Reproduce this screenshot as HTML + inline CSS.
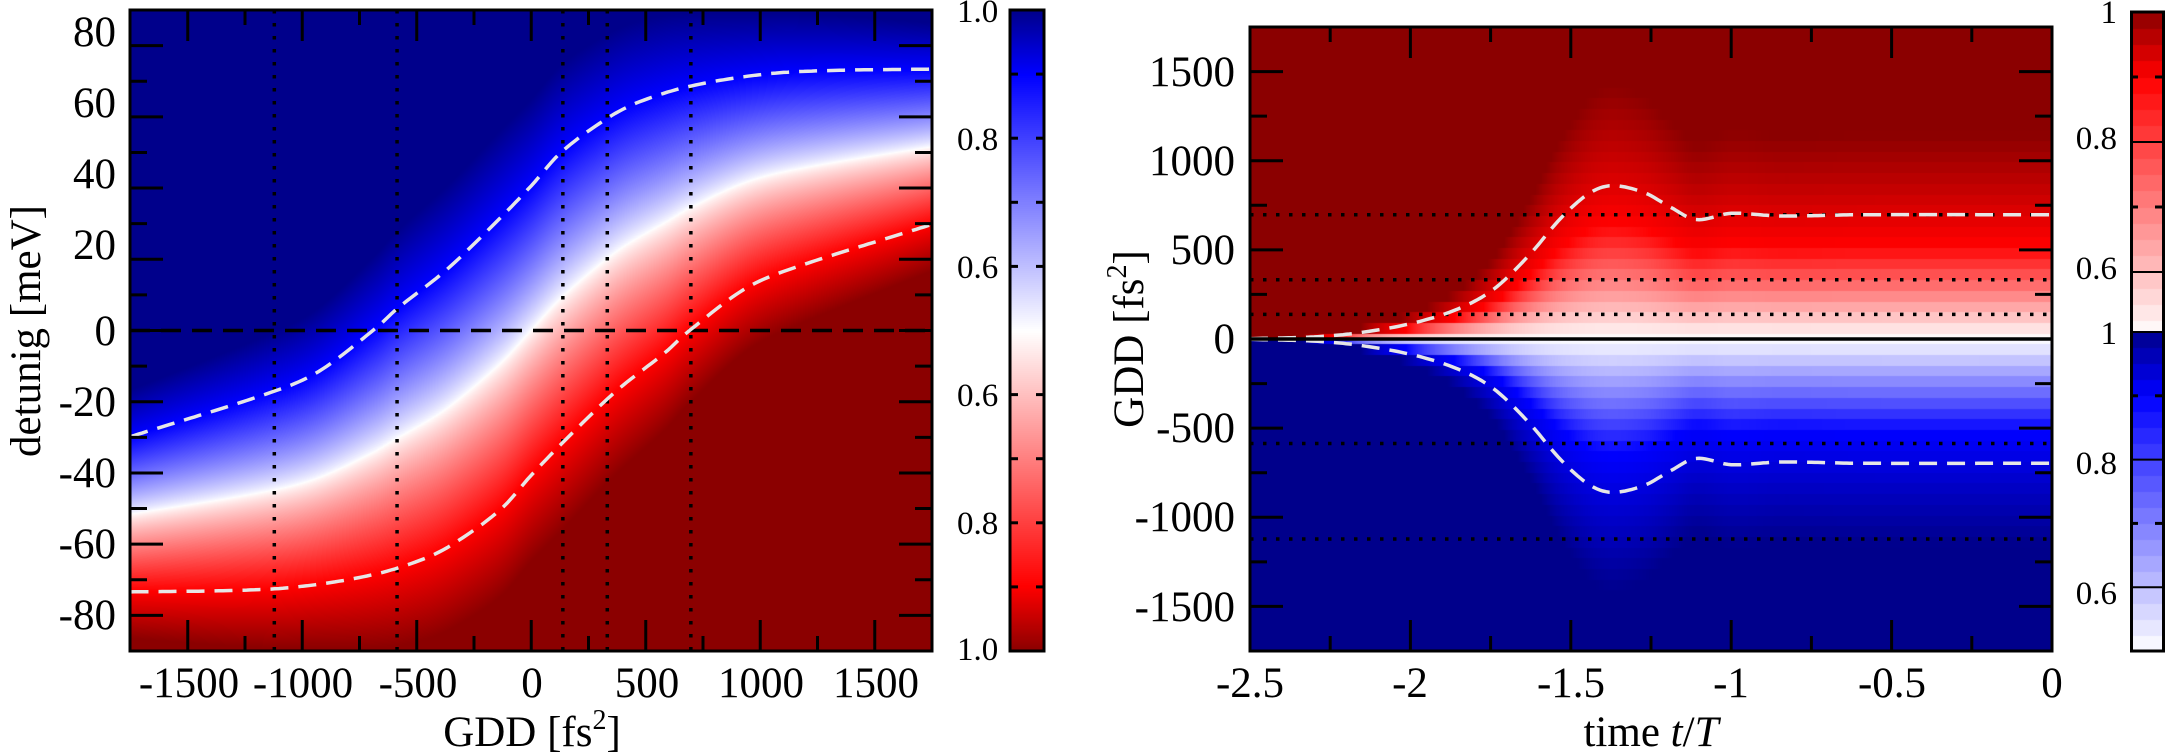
<!DOCTYPE html>
<html><head><meta charset="utf-8">
<style>
html,body{margin:0;padding:0;background:#fff;}
#wrap{position:relative;width:2165px;height:756px;overflow:hidden;}
canvas{position:absolute;}
svg{position:absolute;left:0;top:0;}
text{font-family:"Liberation Serif",serif;fill:#000;}
</style></head>
<body><div id="wrap">
<canvas id="c1" width="802" height="641" style="left:130px;top:10px"></canvas>
<canvas id="cb1" width="34" height="641" style="left:1010px;top:10px"></canvas>
<canvas id="c2" width="802" height="624" style="left:1250px;top:27px"></canvas>
<canvas id="cb2" width="33" height="639" style="left:2130px;top:12px"></canvas>
<svg id="s" width="2165" height="756" viewBox="0 0 2165 756">
<g id="lines"></g>
<g font-size="43" text-anchor="end">
<text x="116" y="46">80</text>
<text x="116" y="117">60</text>
<text x="116" y="188">40</text>
<text x="116" y="259">20</text>
<text x="116" y="345">0</text>
<text x="116" y="416">-20</text>
<text x="116" y="487">-40</text>
<text x="116" y="558">-60</text>
<text x="116" y="629">-80</text>
</g>
<g font-size="43" text-anchor="middle">
<text x="189" y="697">-1500</text>
<text x="303" y="697">-1000</text>
<text x="418" y="697">-500</text>
<text x="532" y="697">0</text>
<text x="647" y="697">500</text>
<text x="761" y="697">1000</text>
<text x="876" y="697">1500</text>
<text x="532" y="746">GDD [fs<tspan font-size="28" dy="-17">2</tspan><tspan dy="17">]</tspan></text>
<text transform="translate(40,331) rotate(-90)">detunig [meV]</text>
</g>
<g font-size="33">
<text x="957" y="22">1.0</text>
<text x="957" y="150">0.8</text>
<text x="957" y="278">0.6</text>
<text x="957" y="406">0.6</text>
<text x="957" y="534">0.8</text>
<text x="957" y="660">1.0</text>
</g>
<g font-size="43" text-anchor="end">
<text x="1235" y="86">1500</text>
<text x="1235" y="175">1000</text>
<text x="1235" y="264">500</text>
<text x="1235" y="353">0</text>
<text x="1235" y="442">-500</text>
<text x="1235" y="531">-1000</text>
<text x="1235" y="621">-1500</text>
</g>
<g font-size="43" text-anchor="middle">
<text x="1250" y="697">-2.5</text>
<text x="1410" y="697">-2</text>
<text x="1571" y="697">-1.5</text>
<text x="1731" y="697">-1</text>
<text x="1892" y="697">-0.5</text>
<text x="2052" y="697">0</text>
<text x="1651" y="746">time <tspan font-style="italic">t</tspan>/<tspan font-style="italic">T</tspan></text>
<text transform="translate(1143,339) rotate(-90)">GDD [fs<tspan font-size="28" dy="-17">2</tspan><tspan dy="17">]</tspan></text>
</g>
<g font-size="33" text-anchor="end">
<text x="2117" y="23">1</text>
<text x="2117" y="149">0.8</text>
<text x="2117" y="279">0.6</text>
<text x="2117" y="344">1</text>
<text x="2117" y="474">0.8</text>
<text x="2117" y="604">0.6</text>
</g>
</svg>
</div>
<script>
function herm(P,x){
  var n=P.length;
  if(x<=P[0][0])return P[0][1];
  if(x>=P[n-1][0])return P[n-1][1];
  var i=0;while(x>P[i+1][0])i++;
  var x0=P[i][0],x1=P[i+1][0],y0=P[i][1],y1=P[i+1][1],h=x1-x0;
  function sl(k){if(k<=0)return (P[1][1]-P[0][1])/(P[1][0]-P[0][0]);if(k>=n-1)return (P[n-1][1]-P[n-2][1])/(P[n-1][0]-P[n-2][0]);return (P[k+1][1]-P[k-1][1])/(P[k+1][0]-P[k-1][0]);}
  var m0=sl(i),m1=sl(i+1),t=(x-x0)/h,t2=t*t,t3=t2*t;
  return (2*t3-3*t2+1)*y0+(t3-2*t2+t)*h*m0+(-2*t3+3*t2)*y1+(t3-t2)*h*m1;
}
var U=[[-1750,-29.8],[-1129,-17.2],[-928,-11.5],[-678,0.7],[-588,6],[-371,17],[-176,29],[-9,40],[130,50],[330,59.5],[464,64],[693,68.6],[1022,72],[1300,73],[1750,73.4]];
var DT=[[-2.5,2],[-2.3,12],[-2.16,35],[-1.99,90],[-1.85,170],[-1.74,280],[-1.63,470],[-1.53,680],[-1.44,820],[-1.37,860],[-1.27,820],[-1.19,740],[-1.11,670],[-1.0,705],[-0.85,690],[-0.6,697],[0,697]];
function u(g){return herm(U,g);}
function l(g){return -herm(U,-g);}
function D(t){return herm(DT,t);}
function col(p,blue,pd,gam){
  if(p<=1){var f=Math.pow(p,gam||1);var w=Math.round(255*(1-f));return blue?[w,w,255]:[255,w,w];}
  var f2=Math.min(1,(p-1)/(pd-1));var d=Math.round(255-116*f2);
  return blue?[0,0,d]:[d,0,0];
}
function vcol(v,blue){
  if(v<=0.9){return col((v-0.5)/0.4,blue,2);} return col(1+(v-0.9)/0.1,blue,2);
}
(function(){
  var c=document.getElementById('c1'),x=c.getContext('2d'),W=802,H=641,im=x.createImageData(W,H),d=im.data;
  for(var px=0;px<W;px++){
    var g=-1750+(px+0.5)/W*3500,uu=u(g),ll=l(g),cc=(uu+ll)/2,hh=(uu-ll)/2;
    for(var py=0;py<H;py++){
      var y=90-(py+0.5)/H*180,s=(y-cc)/hh,k=col(Math.abs(s),s>0,1.6,0.8),o=(py*W+px)*4;
      d[o]=k[0];d[o+1]=k[1];d[o+2]=k[2];d[o+3]=255;}
  }
  x.putImageData(im,0,0);
})();
(function(){
  var c=document.getElementById('c2'),x=c.getContext('2d'),W=802,H=624,im=x.createImageData(W,H),d=im.data;
  for(var px=0;px<W;px++){
    var t=-2.5+(px+0.5)/W*2.5,Wd=Math.max(D(t)*0.75,4);
    for(var py=0;py<H;py++){
      var G=1750-(py+0.5)/H*3500,Gq=Math.round(G/60)*60;if(Gq===0)Gq=G>0?15:-15;
      var s=Gq/Wd,k=col(Math.abs(s),s<0,2.2),o=(py*W+px)*4;
      d[o]=k[0];d[o+1]=k[1];d[o+2]=k[2];d[o+3]=255;}
  }
  x.putImageData(im,0,0);
})();
(function(){
  var c=document.getElementById('cb1').getContext('2d');
  for(var py=0;py<641;py++){
    var yy=py+10,v,blue;
    if(yy<330.5){v=1-(yy-10)/640;blue=true;}else{v=0.5+(yy-330.5)/640;blue=false;}
    var k=vcol(v,blue);c.fillStyle='rgb('+k+')';c.fillRect(0,py,34,1);}
  var c2=document.getElementById('cb2').getContext('2d');
  for(var py=0;py<639;py++){
    var yy=py+12,v,blue;
    if(yy<332){v=1-(yy-12)/650;blue=false;}else{v=1-(yy-332)/638;blue=true;}
    v=Math.min(1,Math.floor(v*40)/40+0.0125);
    var k=vcol(v,blue);c2.fillStyle='rgb('+k+')';c2.fillRect(0,py,33,1);}
})();
(function(){
  var g=document.getElementById('lines'),h='';
  function L(x1,y1,x2,y2,st){h+='<line x1="'+x1+'" y1="'+y1+'" x2="'+x2+'" y2="'+y2+'" '+st+'/>';}
  var tk='stroke="#000" stroke-width="3"';
  function LX(gd){return 130.5+(gd+1750)/3500*801.5;}
  function LY(m){return 330.5-m*3.561;}
  [-1122,-586,138,332,697].forEach(function(gd){var X=LX(gd);L(X,10,X,651,'stroke="#000" stroke-width="3.5" stroke-dasharray="3.5 9.5"');});
  L(130,LY(0),932,LY(0),'stroke="#000" stroke-width="3.5" stroke-dasharray="20 11"');
  var p1='',p2='';
  for(var i=0;i<=200;i++){var gd=-1750+i*17.5;p1+=(i?'L':'M')+LX(gd).toFixed(1)+','+LY(u(gd)).toFixed(1);p2+=(i?'L':'M')+LX(gd).toFixed(1)+','+LY(l(gd)).toFixed(1);}
  h+='<path d="'+p1+'" fill="none" stroke="#e6e6e6" stroke-width="3.5" stroke-dasharray="18 10"/>';
  h+='<path d="'+p2+'" fill="none" stroke="#e6e6e6" stroke-width="3.5" stroke-dasharray="18 10"/>';
  for(var gd=-1750;gd<=1750;gd+=250){var X=LX(gd),mj=(gd%500===0);if(gd===-1750||gd===1750)continue;var len=mj?31:15;L(X,651,X,651-len,tk);L(X,10,X,10+len,tk);}
  for(var m=-80;m<=80;m+=10){var Y=LY(m),mj=(m%20===0);var len=mj?33:17;L(130,Y,130+len,Y,tk);L(932,Y,932-len,Y,tk);}
  h+='<rect x="130" y="10" width="802" height="641" fill="none" stroke="#000" stroke-width="3"/>';
  for(var k=0;k<=10;k++){var Y=10+k*64.1;if(k==0||k==10||k==5)continue;L(1010,Y,1018,Y,tk);L(1044,Y,1036,Y,tk);}
  h+='<rect x="1010" y="10" width="34" height="641" fill="none" stroke="#000" stroke-width="3"/>';
  function RX(t){return 1250+(t+2.5)/2.5*802;}
  function RY(G){return 339-G*0.17829;}
  [697,332,138,-586,-1122].forEach(function(G){var Y=RY(G);L(1250,Y,2052,Y,'stroke="#000" stroke-width="3.5" stroke-dasharray="3.5 9.5"');});
  var q1='',q2='';
  for(var i=0;i<=250;i++){var t=-2.5+i*0.01;q1+=(i?'L':'M')+RX(t).toFixed(1)+','+RY(D(t)).toFixed(1);q2+=(i?'L':'M')+RX(t).toFixed(1)+','+RY(-D(t)).toFixed(1);}
  h+='<path d="'+q1+'" fill="none" stroke="#e6e6e6" stroke-width="3.5" stroke-dasharray="18 10"/>';
  h+='<path d="'+q2+'" fill="none" stroke="#e6e6e6" stroke-width="3.5" stroke-dasharray="18 10"/>';
  L(1250,RY(0),2052,RY(0),'stroke="#000" stroke-width="3.5"');
  for(var k=1;k<10;k++){var t=-2.5+k*0.25,X=RX(t),len=(k%2===0)?31:15;L(X,651,X,651-len,tk);L(X,27,X,27+len,tk);}
  for(var G=-1500;G<=1500;G+=250){var Y=RY(G),len=(G%500===0)?33:17;L(1250,Y,1250+len,Y,tk);L(2052,Y,2052-len,Y,tk);}
  h+='<rect x="1250" y="27" width="802" height="624" fill="none" stroke="#000" stroke-width="3"/>';
  [0.9,0.7].forEach(function(v){var Y=12+(1-v)*650;L(2130,Y,2138,Y,tk);L(2163,Y,2155,Y,tk);Y=332+(1-v)*638;L(2130,Y,2138,Y,tk);L(2163,Y,2155,Y,tk);});
  [0.8,0.6].forEach(function(v){var Y=12+(1-v)*650;L(2130,Y,2163,Y,'stroke="#000" stroke-width="2"');Y=332+(1-v)*638;L(2130,Y,2163,Y,'stroke="#000" stroke-width="2"');});
  L(2130,332,2163,332,'stroke="#000" stroke-width="2"');
  h+='<rect x="2131.5" y="12" width="32" height="639" fill="none" stroke="#000" stroke-width="3"/>';
  g.innerHTML=h;
})();
</script>
</body></html>
